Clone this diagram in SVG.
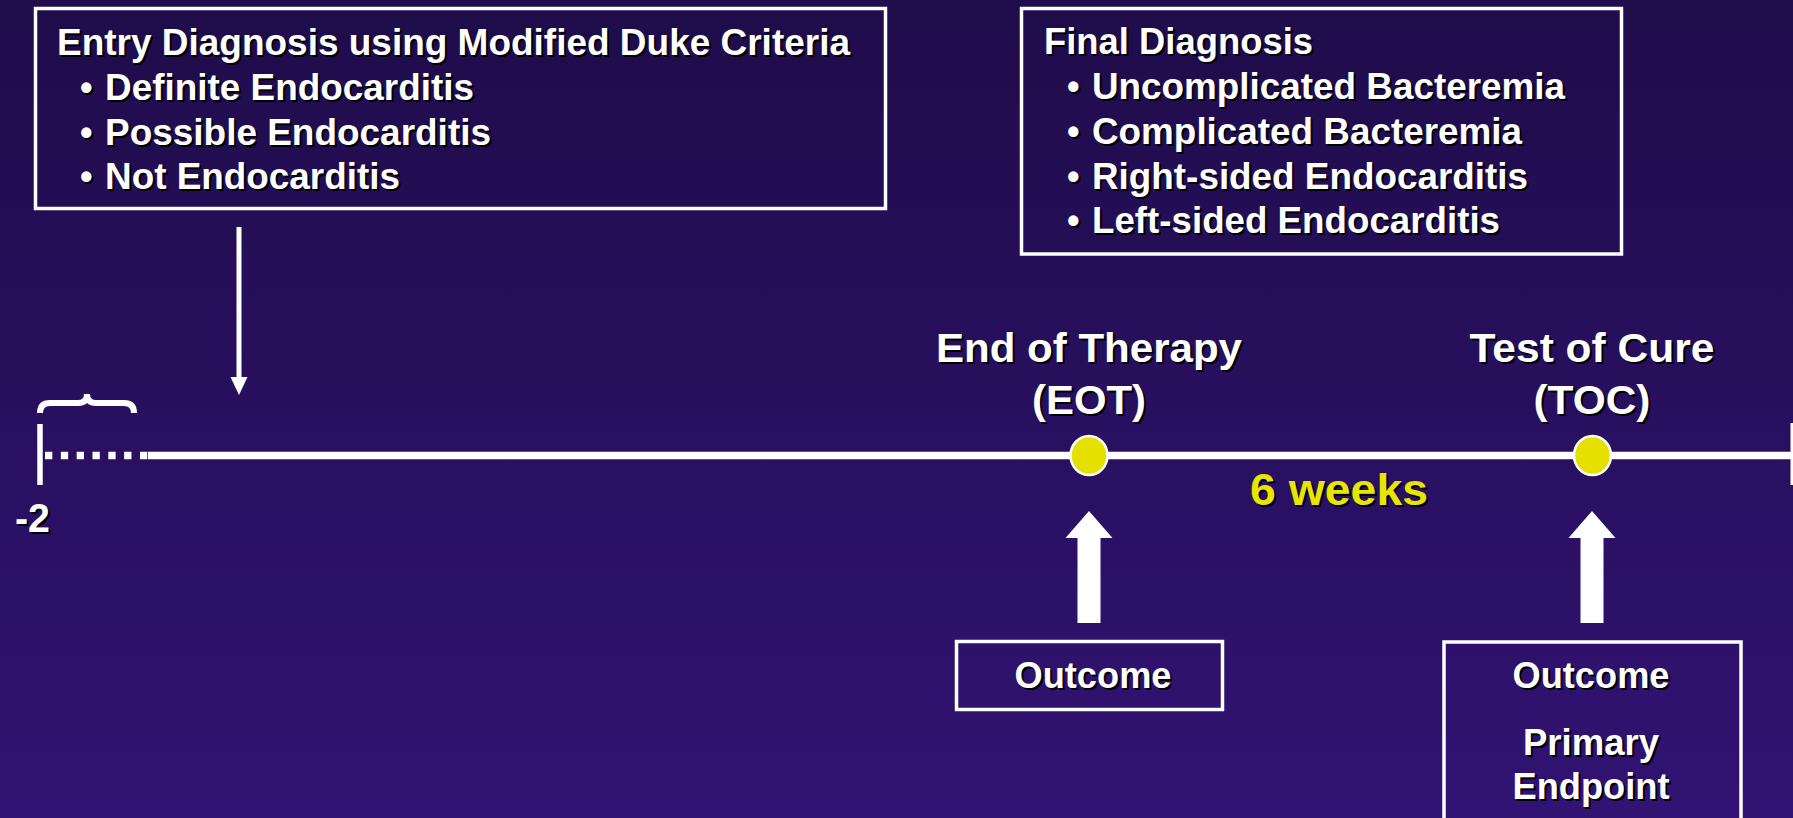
<svg xmlns="http://www.w3.org/2000/svg" xmlns:xlink="http://www.w3.org/1999/xlink" width="1793" height="818" viewBox="0 0 1793 818">
<defs>
<linearGradient id="bg" x1="0" y1="0" x2="0" y2="1">
<stop offset="0" stop-color="#1F0C4A"/>
<stop offset="1" stop-color="#311373"/>
</linearGradient>
<style>
.bx{font-size:36px}
.lb{font-size:41px;text-anchor:middle}
.oc{font-size:36px;text-anchor:middle}
.box{fill:none;stroke:#fff;stroke-width:3.5}
.wl{stroke:#fff;fill:none}
.arr{fill:#fff}
.dot{fill:#E6E000;stroke:#fff;stroke-width:2.5}
.w{fill:#fff}
.s{fill:#000}
</style>
</defs>
<rect x="0" y="0" width="1793" height="818" fill="url(#bg)"/>

<g font-family="Liberation Sans, Arial, Helvetica, sans-serif" font-weight="bold">

<g id="entry-box">
<rect class="box" x="35.5" y="8.5" width="850" height="200"/>
<use xlink:href="#entry-text" href="#entry-text" class="s" transform="translate(2,2)"/>
<g class="w"><g id="entry-text">
<text class="bx" x="57" y="55" textLength="793" lengthAdjust="spacingAndGlyphs">Entry Diagnosis using Modified Duke Criteria</text>
<text class="bx" x="80" y="100">•</text>
<text class="bx" x="105" y="100" textLength="369" lengthAdjust="spacingAndGlyphs">Definite Endocarditis</text>
<text class="bx" x="80" y="145">•</text>
<text class="bx" x="105" y="145" textLength="386" lengthAdjust="spacingAndGlyphs">Possible Endocarditis</text>
<text class="bx" x="80" y="189">•</text>
<text class="bx" x="105" y="189" textLength="295" lengthAdjust="spacingAndGlyphs">Not Endocarditis</text>
</g></g>
</g>

<g id="final-box">
<rect class="box" x="1021.5" y="8.5" width="600" height="245.5"/>
<use xlink:href="#final-text" href="#final-text" class="s" transform="translate(2,2)"/>
<g class="w"><g id="final-text">
<text class="bx" x="1044" y="54" textLength="269" lengthAdjust="spacingAndGlyphs">Final Diagnosis</text>
<text class="bx" x="1067" y="99">•</text>
<text class="bx" x="1092" y="99" textLength="473" lengthAdjust="spacingAndGlyphs">Uncomplicated Bacteremia</text>
<text class="bx" x="1067" y="144">•</text>
<text class="bx" x="1092" y="144" textLength="430" lengthAdjust="spacingAndGlyphs">Complicated Bacteremia</text>
<text class="bx" x="1067" y="189">•</text>
<text class="bx" x="1092" y="189" textLength="436" lengthAdjust="spacingAndGlyphs">Right-sided Endocarditis</text>
<text class="bx" x="1067" y="233">•</text>
<text class="bx" x="1092" y="233" textLength="408" lengthAdjust="spacingAndGlyphs">Left-sided Endocarditis</text>
</g></g>
</g>

<g id="timeline">
<line class="wl" x1="148" y1="455.5" x2="1793" y2="455.5" stroke-width="7.5"/>
<line class="wl" x1="45" y1="455.5" x2="148" y2="455.5" stroke-width="7.5" stroke-dasharray="7.3 8.53"/>
<line class="wl" x1="40" y1="424" x2="40" y2="485" stroke-width="5.5"/>
<line class="wl" x1="1792" y1="423" x2="1792" y2="485" stroke-width="3"/>
<path class="wl" d="M40,413 Q40,403 50,403 L78,403 Q87,403 87,394 Q87,403 96,403 L124,403 Q134,403 134,413" stroke-width="6"/>
<use xlink:href="#tl-text" href="#tl-text" class="s" transform="translate(2,2)"/>
<g class="w"><g id="tl-text">
<text x="15" y="532" font-size="41" textLength="35" lengthAdjust="spacingAndGlyphs">-2</text>
</g></g>
<use xlink:href="#wk-text" href="#wk-text" class="s" transform="translate(2,2)"/>
<g fill="#E6E600"><g id="wk-text">
<text x="1250" y="505" font-size="45" textLength="178" lengthAdjust="spacingAndGlyphs">6 weeks</text>
</g></g>
</g>

<g id="eot">
<use xlink:href="#eot-text" href="#eot-text" class="s" transform="translate(2,2)"/>
<g class="w"><g id="eot-text">
<text class="lb" x="1089" y="362" textLength="306" lengthAdjust="spacingAndGlyphs">End of Therapy</text>
<text class="lb" x="1089" y="414" textLength="114" lengthAdjust="spacingAndGlyphs">(EOT)</text>
</g></g>
<ellipse class="dot" cx="1089" cy="455.5" rx="18.5" ry="19.5"/>
</g>

<g id="toc">
<use xlink:href="#toc-text" href="#toc-text" class="s" transform="translate(2,2)"/>
<g class="w"><g id="toc-text">
<text class="lb" x="1592" y="362" textLength="245" lengthAdjust="spacingAndGlyphs">Test of Cure</text>
<text class="lb" x="1592" y="414" textLength="117" lengthAdjust="spacingAndGlyphs">(TOC)</text>
</g></g>
<ellipse class="dot" cx="1592.5" cy="455.5" rx="18.5" ry="19.5"/>
</g>

<g id="eot-outcome">
<rect class="box" x="956.5" y="641.5" width="266" height="68" stroke-width="3"/>
<use xlink:href="#eo-text" href="#eo-text" class="s" transform="translate(2,2)"/>
<g class="w"><g id="eo-text">
<text class="oc" x="1093" y="688" textLength="157" lengthAdjust="spacingAndGlyphs">Outcome</text>
</g></g>
</g>

<g id="toc-outcome">
<rect class="box" x="1444" y="642" width="297" height="200"/>
<use xlink:href="#to-text" href="#to-text" class="s" transform="translate(2,2)"/>
<g class="w"><g id="to-text">
<text class="oc" x="1591" y="688" textLength="157" lengthAdjust="spacingAndGlyphs">Outcome</text>
<text class="oc" x="1591" y="755" textLength="136" lengthAdjust="spacingAndGlyphs">Primary</text>
<text class="oc" x="1591" y="799" textLength="157" lengthAdjust="spacingAndGlyphs">Endpoint</text>
</g></g>
</g>

</g>

<g id="connectors">
<line class="wl" x1="239" y1="227" x2="239" y2="379" stroke-width="5"/>
<polygon class="arr" points="230.5,377 247.5,377 239,395"/>
<polygon class="arr" points="1089,511 1112.5,538 1100.5,538 1100.5,623 1077.5,623 1077.5,538 1065.5,538"/>
<polygon class="arr" points="1592,511 1615.5,538 1603.5,538 1603.5,623 1580.5,623 1580.5,538 1568.5,538"/>
</g>
</svg>
